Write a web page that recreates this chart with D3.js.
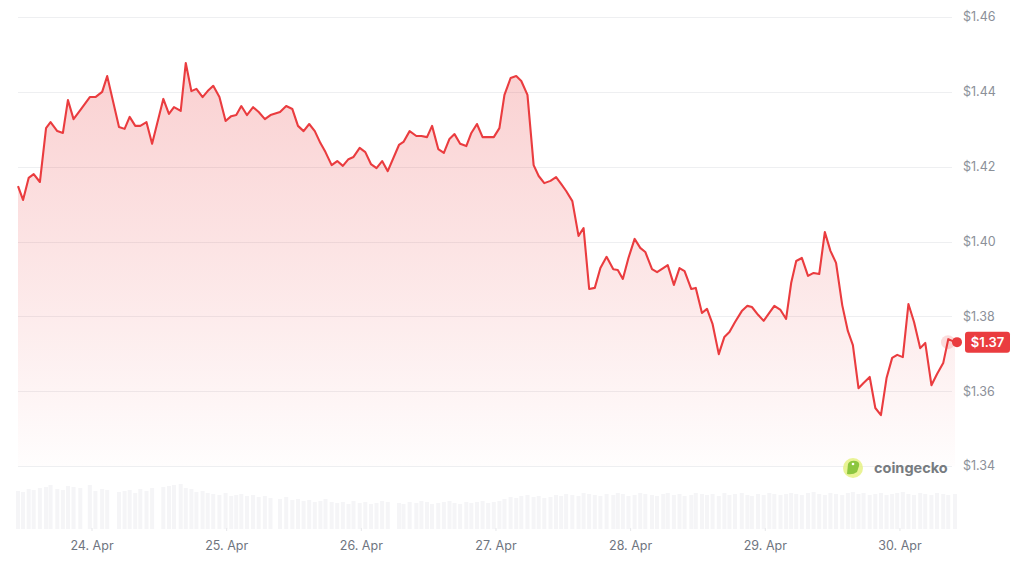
<!DOCTYPE html>
<html>
<head>
<meta charset="utf-8">
<script src="https://cdn.jsdelivr.net/npm/d3@7"></script>
<style>
  body { margin: 0; background: #fff; }
  svg { display: block; font-family: Inter, "Noto Sans", sans-serif; }
</style>
</head>
<body>
<div id="chart"></div>
<script>
// hours after 24 Apr 00:00
var hours = [-13.1,-12.2,-11.2,-10.3,-9.2,-8.1,-7.3,-6.1,-5.1,-4.2,-3.2,-2.0,-0.3,0.7,1.9,2.8,
  4.9,5.9,6.8,7.8,8.7,9.8,10.8,12.8,13.8,14.7,15.9,16.8,17.8,18.7,19.8,20.7,21.7,22.8,23.9,
  24.9,25.8,26.7,27.7,28.8,29.8,30.9,31.9,33.6,34.7,35.8,36.8,37.8,38.8,39.8,40.8,41.7,42.8,
  43.8,44.8,45.8,46.7,47.8,48.8,49.8,50.8,51.8,52.8,54.8,55.6,56.7,57.9,58.8,59.8,60.7,61.8,
  62.8,63.8,64.7,65.7,66.8,67.7,68.7,69.7,70.7,71.7,72.7,73.6,74.7,75.7,76.6,77.7,78.8,79.7,
  80.7,81.8,82.8,83.7,84.6,85.7,86.8,87.7,88.7,89.7,90.7,91.8,93.0,93.8,94.7,95.7,96.8,97.8,
  98.7,99.9,100.8,101.9,102.7,103.8,104.8,105.7,106.9,107.7,108.8,109.7,110.7,111.8,112.8,
  113.7,114.7,115.9,116.9,117.7,118.8,119.8,120.8,121.7,122.8,123.8,124.7,125.6,126.6,127.7,
  128.7,129.7,130.7,131.7,132.7,133.8,134.8,135.7,136.7,137.6,138.7,139.7,140.7,141.7,142.7,
  143.6,144.6,145.6,146.6,147.7,148.6,149.7,150.7,151.8,152.7,153.9];

var prices = [1.4148,1.4111,1.4170,1.4180,1.4159,1.4303,1.4319,1.4295,1.4290,1.4378,1.4327,1.4351,
  1.4386,1.4386,1.4400,1.4442,1.4306,1.4301,1.4333,1.4309,1.4309,1.4319,1.4261,1.4381,1.4341,
  1.4359,1.4349,1.4477,1.4402,1.4408,1.4386,1.4402,1.4416,1.4386,1.4322,1.4335,1.4338,1.4362,
  1.4338,1.4359,1.4346,1.4327,1.4338,1.4346,1.4362,1.4354,1.4309,1.4295,1.4314,1.4295,1.4263,
  1.4239,1.4204,1.4215,1.4202,1.4220,1.4226,1.4250,1.4239,1.4207,1.4196,1.4215,1.4188,1.4258,
  1.4266,1.4295,1.4282,1.4282,1.4279,1.4309,1.4247,1.4237,1.4274,1.4287,1.4261,1.4255,1.4290,
  1.4314,1.4279,1.4279,1.4279,1.4303,1.4392,1.4437,1.4442,1.4429,1.4392,1.4204,1.4175,1.4156,
  1.4162,1.4172,1.4154,1.4135,1.4108,1.4015,1.4036,1.3873,1.3876,1.3929,1.3959,1.3926,1.3924,
  1.3900,1.3956,1.4007,1.3983,1.3972,1.3926,1.3918,1.3929,1.3937,1.3884,1.3929,1.3921,1.3873,
  1.3876,1.3809,1.3820,1.3779,1.3699,1.3745,1.3758,1.3785,1.3814,1.3828,1.3825,1.3804,1.3788,
  1.3809,1.3828,1.3817,1.3793,1.3889,1.3948,1.3956,1.3908,1.3916,1.3913,1.4025,1.3975,1.3943,
  1.3830,1.3761,1.3723,1.3608,1.3622,1.3638,1.3555,1.3536,1.3635,1.3689,1.3697,1.3691,1.3833,
  1.3785,1.3715,1.3729,1.3616,1.3646,1.3675,1.3739,1.3731];

var volumes = [38,37,40,39,41,42,44,40,39,43,42,41,44,38,40,39,
  37,38,39,36,40,38,41,42,43,44,45,41,40,
  37,38,36,35,34,36,33,34,35,33,34,
  32,33,31,30,32,29,30,28,29,27,28,30,27,
  26,27,25,28,26,27,25,26,28,27,26,25,27,26,28,27,25,26,27,28,26,25,27,26,27,28,26,27,28,
  30,32,31,33,34,32,33,31,32,34,33,35,34,33,36,35,34,
  33,35,34,36,35,33,34,36,35,34,33,35,36,34,35,33,34,36,35,34,35,33,36,34,35,36,34,33,35,34,36,35,34,35,
  36,35,34,36,37,35,34,36,35,34,36,37,35,36,34,35,36,34,35,36,37,35,34,36,35,34,36,35,34,35];

var yTicks = [1.34, 1.36, 1.38, 1.40, 1.42, 1.44, 1.46];
var currentLabel = "$1.37";
var brand = "coingecko";

var width = 1024, height = 587;
var lineColor = "#ea3c3f";

var base = new Date(2024, 3, 24, 0, 0);
var data = hours.map(function(h, i) {
  return { date: new Date(base.getTime() + h * 3600e3), price: prices[i], volume: volumes[i] };
});

var x = d3.scaleTime()
  .domain(d3.extent(data, function(d) { return d.date; }))
  .range([18, 955]);

var y = d3.scaleLinear().domain([1.34, 1.46]).range([466, 17]);

var yVol = d3.scaleLinear().domain([0, d3.max(volumes)]).range([529, 484]);

var svg = d3.select("#chart").append("svg")
  .attr("width", width)
  .attr("height", height);

var defs = svg.append("defs");
var grad = defs.append("linearGradient")
  .attr("id", "areaGrad")
  .attr("gradientUnits", "userSpaceOnUse")
  .attr("x1", 0).attr("x2", 0)
  .attr("y1", y(d3.max(prices))).attr("y2", y(1.34));
grad.append("stop").attr("offset", "0%").attr("stop-color", lineColor).attr("stop-opacity", 0.24);
grad.append("stop").attr("offset", "55%").attr("stop-color", lineColor).attr("stop-opacity", 0.12);
grad.append("stop").attr("offset", "100%").attr("stop-color", lineColor).attr("stop-opacity", 0.01);

// volume bars (very faint)
svg.append("g").selectAll("rect")
  .data(data)
  .enter().append("rect")
  .attr("x", function(d) { return x(d.date) - 2; })
  .attr("width", 4)
  .attr("y", function(d) { return yVol(d.volume); })
  .attr("height", function(d) { return 529 - yVol(d.volume); })
  .attr("fill", "#f5f5f7");

// grid lines
svg.append("g").selectAll("line")
  .data(yTicks)
  .enter().append("line")
  .attr("x1", 18).attr("x2", 952)
  .attr("y1", function(d) { return Math.round(y(d)) + 0.5; })
  .attr("y2", function(d) { return Math.round(y(d)) + 0.5; })
  .attr("stroke", "#eeeff1")
  .attr("stroke-width", 1);

// area + line
var area = d3.area()
  .x(function(d) { return x(d.date); })
  .y0(y(1.34))
  .y1(function(d) { return y(d.price); });

var line = d3.line()
  .x(function(d) { return x(d.date); })
  .y(function(d) { return y(d.price); });

svg.append("path").datum(data)
  .attr("d", area)
  .attr("fill", "url(#areaGrad)");

svg.append("path").datum(data)
  .attr("d", line)
  .attr("fill", "none")
  .attr("stroke", lineColor)
  .attr("stroke-width", 2.1)
  .attr("stroke-linejoin", "round");

// y axis labels
svg.append("g").selectAll("text")
  .data(yTicks)
  .enter().append("text")
  .attr("x", 963)
  .attr("y", function(d) { return y(d); })
  .attr("dy", "0.35em")
  .attr("font-size", 12.5)
  .attr("fill", "#8b9099")
  .text(function(d) { return "$" + d3.format(".2f")(d); });

// x axis
var xAxis = d3.axisBottom(x)
  .ticks(d3.timeDay.every(1))
  .tickFormat(d3.timeFormat("%d. %b"))
  .tickSize(3)
  .tickPadding(10);

var gx = svg.append("g")
  .attr("transform", "translate(0,528)")
  .call(xAxis);
gx.select(".domain").remove();
gx.selectAll(".tick line").attr("stroke", "#e6e7ea");
gx.selectAll(".tick text")
  .attr("font-family", "Inter, 'Noto Sans', sans-serif")
  .attr("font-size", 12.5)
  .attr("fill", "#6f7580");

// last point marker + price tag
var last = data[data.length - 1];
svg.append("circle")
  .attr("cx", x(last.date) - 7).attr("cy", y(last.price))
  .attr("r", 7)
  .attr("fill", lineColor).attr("fill-opacity", 0.18);
svg.append("circle")
  .attr("cx", x(last.date) + 2).attr("cy", y(last.price))
  .attr("r", 5)
  .attr("fill", lineColor);

svg.append("rect")
  .attr("x", 965).attr("y", y(last.price) - 10.5)
  .attr("width", 45).attr("height", 21)
  .attr("rx", 3)
  .attr("fill", lineColor);
svg.append("text")
  .attr("x", 987.5).attr("y", y(last.price))
  .attr("dy", "0.36em")
  .attr("text-anchor", "middle")
  .attr("font-size", 13)
  .attr("font-weight", 600)
  .attr("fill", "#fff")
  .text(currentLabel);

// coingecko watermark
var logo = svg.append("g").attr("transform", "translate(853,468)");
logo.append("circle").attr("r", 10).attr("fill", "#e4f07a").attr("opacity", 0.8);
logo.append("path")
  .attr("d", "M-6,6 L-5,-4 Q-3,-8 3,-7 Q7,-6 6,-2 L4,4 Q0,7 -6,6 Z")
  .attr("fill", "#8cc63f");
logo.append("circle").attr("cx", 0).attr("cy", -4).attr("r", 1.3).attr("fill", "#fff");

svg.append("text")
  .attr("x", 874).attr("y", 468)
  .attr("dy", "0.36em")
  .attr("font-size", 14.5)
  .attr("font-weight", 700)
  .attr("fill", "#777b80")
  .text(brand);
</script>
</body>
</html>
